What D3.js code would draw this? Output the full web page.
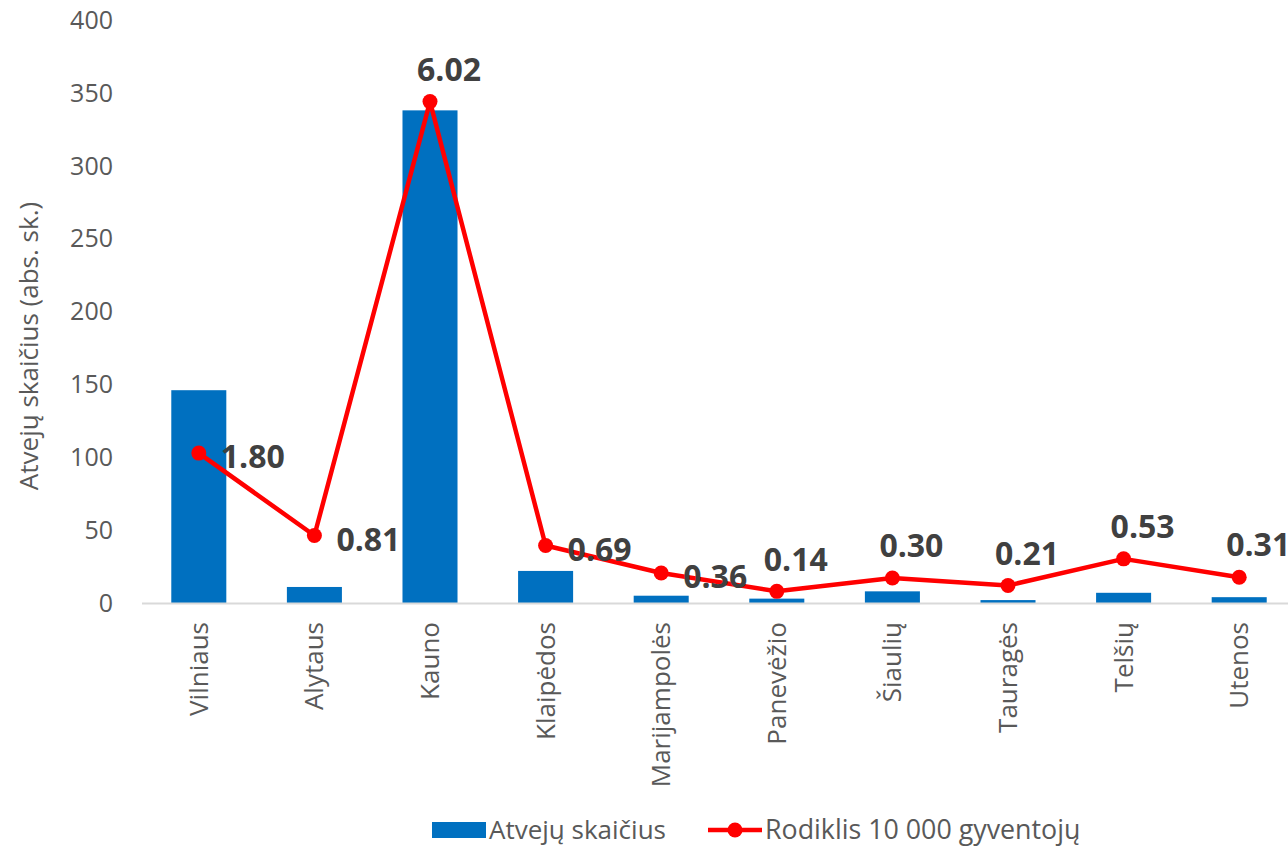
<!DOCTYPE html>
<html><head><meta charset="utf-8">
<script src="https://cdn.jsdelivr.net/npm/d3@7"></script>
<style>
html,body{margin:0;padding:0;background:#fff;}
svg{display:block;font-family:"Open Sans",sans-serif;}
</style></head>
<body>
<svg id="chart" width="1288" height="846"></svg>
<script>
const categories = ["Vilniaus","Alytaus","Kauno","Klaipėdos","Marijampolės","Panevėžio","Šiaulių","Tauragės","Telšių","Utenos"];
const cases = [146, 11, 338, 22, 5, 3, 8, 2, 7, 4];
const rates = [1.80, 0.81, 6.02, 0.69, 0.36, 0.14, 0.30, 0.21, 0.53, 0.31];
const labelPlacement = ["right","right","above","right","right","above","above","above","above","above"];
const yTicks = [0, 50, 100, 150, 200, 250, 300, 350, 400];
const seriesNames = ["Atvejų skaičius", "Rodiklis 10 000 gyventojų"];
const yTitle = "Atvejų skaičius (abs. sk.)";

const svg = d3.select("#chart");
const x = d3.scaleBand().domain(categories).range([141, 1297]).paddingInner(0.524).paddingOuter(0.262);
const y = d3.scaleLinear().domain([0, 400]).range([603, 20]);
const y2 = d3.scaleLinear().domain([0, 7]).range([603, 20]);

const blue = "#0070C0", red = "#FF0000", grey = "#595959";

// y axis tick labels
svg.append("g").selectAll("text").data(yTicks).join("text")
  .attr("x", 113).attr("y", d => y(d)).attr("dy", "0.35em")
  .attr("text-anchor", "end").attr("fill", grey).attr("font-size", 25)
  .text(d => d);

// y title
svg.append("text").attr("transform", `translate(38,346) rotate(-90)`)
  .attr("text-anchor", "middle").attr("fill", grey).attr("font-size", 26)
  .text(yTitle);

// bars
svg.append("g").selectAll("rect").data(cases).join("rect")
  .attr("x", (d, i) => x(categories[i])).attr("width", x.bandwidth())
  .attr("y", d => y(d)).attr("height", d => y(0) - y(d)).attr("fill", blue);

// axis line
svg.append("line").attr("x1", 142).attr("x2", 1288).attr("y1", 603.5).attr("y2", 603.5)
  .attr("stroke", "#d9d9d9").attr("stroke-width", 2);

// x labels
svg.append("g").selectAll("text").data(categories).join("text")
  .attr("transform", d => `translate(${x(d) + x.bandwidth() / 2 + 9},622) rotate(-90)`)
  .attr("text-anchor", "end").attr("fill", grey).attr("font-size", 26)
  .text(d => d);

// line
const cx = i => x(categories[i]) + x.bandwidth() / 2;
svg.append("path").datum(rates)
  .attr("d", d3.line().x((d, i) => cx(i)).y(d => y2(d)))
  .attr("fill", "none").attr("stroke", red).attr("stroke-width", 4.5).attr("stroke-linejoin", "round");
svg.append("g").selectAll("circle").data(rates).join("circle")
  .attr("cx", (d, i) => cx(i)).attr("cy", d => y2(d)).attr("r", 7.5).attr("fill", red);

// data labels
svg.append("g").selectAll("text").data(rates).join("text")
  .attr("x", (d, i) => labelPlacement[i] === "right" ? cx(i) + 22 : cx(i) + 19)
  .attr("y", (d, i) => labelPlacement[i] === "right" ? y2(d) + 4 : y2(d) - 32)
  .attr("dy", "0.35em")
  .attr("text-anchor", (d, i) => labelPlacement[i] === "right" ? "start" : "middle")
  .attr("fill", "#404040").attr("font-size", 32).attr("font-weight", "bold")
  .text(d => d.toFixed(2));

// legend
const lg = svg.append("g");
lg.append("rect").attr("x", 432).attr("y", 822).attr("width", 54).attr("height", 16).attr("fill", blue);
lg.append("text").attr("x", 489).attr("y", 830).attr("dy", "0.35em").attr("fill", grey).attr("font-size", 26).text(seriesNames[0]);
lg.append("line").attr("x1", 708).attr("x2", 762).attr("y1", 830).attr("y2", 830).attr("stroke", red).attr("stroke-width", 4.5);
lg.append("circle").attr("cx", 735).attr("cy", 830).attr("r", 7.5).attr("fill", red);
lg.append("text").attr("x", 765).attr("y", 830).attr("dy", "0.35em").attr("fill", grey).attr("font-size", 26.8).text(seriesNames[1]);
</script>
</body></html>
